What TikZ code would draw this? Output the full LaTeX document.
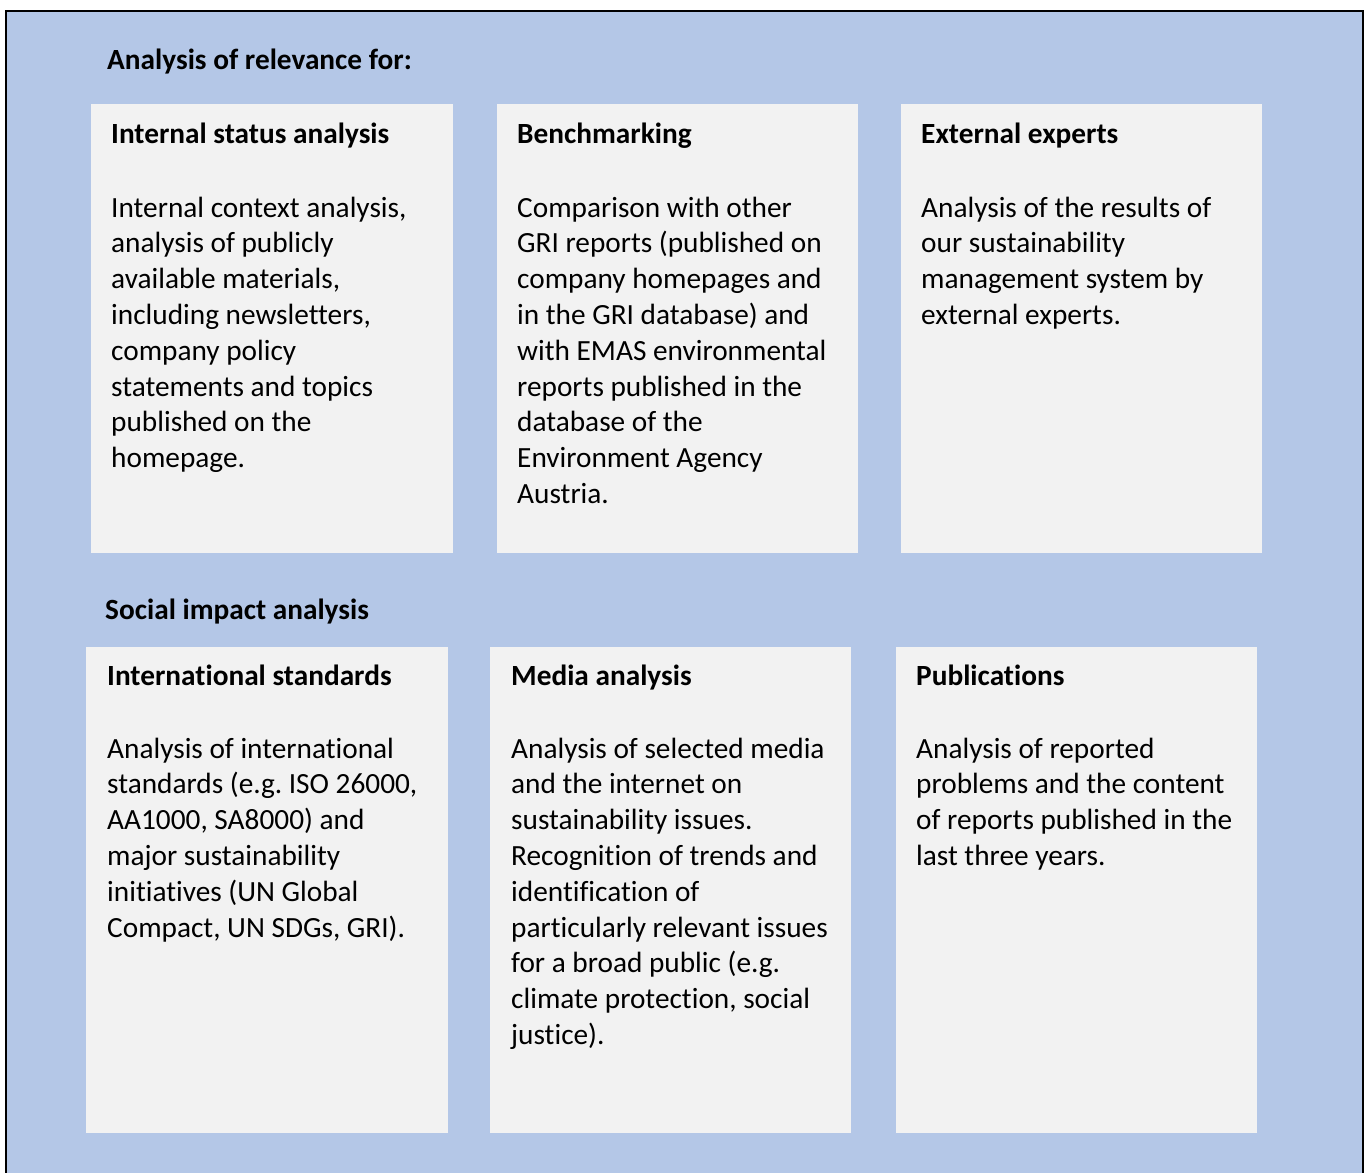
\documentclass[tikz,border=0pt]{standalone}
\usepackage{fontspec}
\setmainfont[Ligatures=NoCommon]{Carlito}
\frenchspacing
\definecolor{panelblue}{HTML}{B4C7E7}
\definecolor{cardgrey}{HTML}{F2F2F2}
\tikzstyle{card}=[fill=cardgrey, inner sep=0, anchor=north west, minimum width=361, minimum height=449]
\tikzstyle{lowcard}=[card, minimum height=486]
\tikzstyle{headline}=[anchor=base west, inner sep=0, font=\fontsize{29.3}{35.8}\selectfont\bfseries]
\tikzstyle{cardtitle}=[headline]
% multi-line text: placed at the baseline of its last line
\tikzstyle{cardtext}=[anchor=base west, inner sep=0, align=left, font=\fontsize{29.3}{35.8}\selectfont]

\begin{document}
\begin{tikzpicture}[x=1pt, y=-1pt]
      \useasboundingbox (0,0) rectangle (1370,1172);
      \draw[fill=panelblue, line width=2.5] (6,11) rectangle (1363,1190);

      % relevance row
      \node[headline] (relevance) at (107,70) {Analysis of relevance for:};
      \node[card, minimum width=362] (status) at (91,104) {};
      \node[card] (bench) at (497,104) {};
      \node[card] (experts) at (901,104) {};

      \node[cardtitle] (statustitle) at (111,143) {Internal status analysis};
      \node[cardtext] (statustext) at (111,467.6) {Internal context analysis,\\analysis of publicly\\available materials,\\including newsletters,\\company policy\\statements and topics\\published on the\\homepage.};

      \node[cardtitle] (benchtitle) at (517,143) {Benchmarking};
      \node[cardtext] (benchtext) at (517,503.4) {Comparison with other\\GRI reports (published on\\company homepages and\\in the GRI database) and\\with EMAS environmental\\reports published in the\\database of the\\Environment Agency\\Austria.};

      \node[cardtitle] (expertstitle) at (921,143) {External experts};
      \node[cardtext] (expertstext) at (921,324.4) {Analysis of the results of\\our sustainability\\management system by\\external experts.};

      % social impact row
      \node[headline] (social) at (105,619) {Social impact analysis};
      \node[lowcard, minimum width=362] (standards) at (86,647) {};
      \node[lowcard] (media) at (490,647) {};
      \node[lowcard] (pubs) at (896,647) {};

      \node[cardtitle] (standardstitle) at (107,685) {International standards};
      \node[cardtext] (standardstext) at (107,937) {Analysis of international\\standards (e.g. ISO 26000,\\AA1000, SA8000) and\\major sustainability\\initiatives (UN Global\\Compact, UN SDGs, GRI).};

      \node[cardtitle] (mediatitle) at (511,685) {Media analysis};
      \node[cardtext] (mediatext) at (511,1044.4) {Analysis of selected media\\and the internet on\\sustainability issues.\\Recognition of trends and\\identification of\\particularly relevant issues\\for a broad public (e.g.\\climate protection, social\\justice).};

      \node[cardtitle] (pubstitle) at (916,685) {Publications};
      \node[cardtext] (pubstext) at (916,865.4) {Analysis of reported\\problems and the content\\of reports published in the\\last three years.};
\end{tikzpicture}
\end{document}
